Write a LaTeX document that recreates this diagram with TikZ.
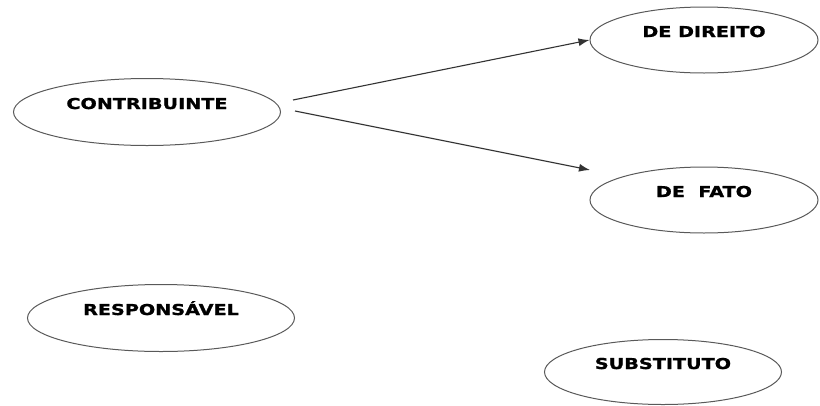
\documentclass[tikz,border=0pt]{standalone}
\usepackage{fontspec}
\usepackage{xcolor}
\usepackage{tikz}
\usetikzlibrary{shapes.geometric}
\usetikzlibrary{arrows.meta}
\newfontfamily\ovalfont[FakeStretch=1.28,BoldFeatures={FakeBold=1.2}]{DejaVu Sans}

\begin{document}
\begin{tikzpicture}[x=1pt,y=-1pt,
        oval/.style={ellipse,draw=black!65,line width=1pt,minimum height=66pt,inner sep=0pt,
            text height=11pt,text depth=17pt,font=\ovalfont\bfseries\fontsize{15}{15}\selectfont,text=black},
        seta/.style={line width=1.1pt,black!80,-{Latex[length=11pt,width=8pt]}}]
        \useasboundingbox (0,0) rectangle (820,405);

        \node[oval,minimum width=267pt,minimum height=67pt] (contrib) at (147,112) {CONTRIBUINTE};
        \node[oval,minimum width=228pt] (direito) at (704,40) {DE DIREITO};
        \node[oval,minimum width=228pt] (fato) at (704,200) {DE\ \ FATO};
        \node[oval,minimum width=267pt,minimum height=67pt] (resp) at (161,318) {RESPONSÁVEL};
        \node[oval,minimum width=237pt,minimum height=65pt] (subst) at (663,372) {SUBSTITUTO};

        \draw (293,100) coordinate (s1);
        \draw (295,111) coordinate (s2);
        \draw (590,170) coordinate (e2);

        \draw[seta] (s1)--(direito.west);
        \draw[seta] (s2)--(e2);
    \end{tikzpicture}
\end{document}
